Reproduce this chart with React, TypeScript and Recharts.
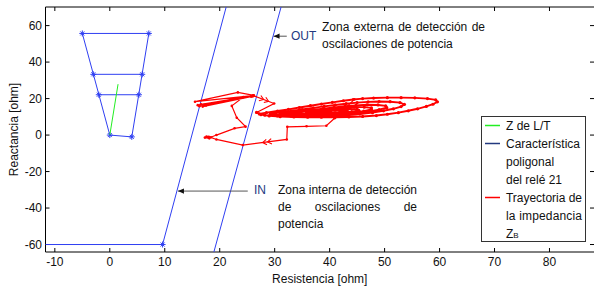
import React from 'react';
import { ScatterChart, Scatter, XAxis, YAxis, Label } from 'recharts';

const BLUE = '#2f3ff2';
const RED = '#ff0000';
const GREEN = '#22ee22';
const NAVY = '#23397f';
const FONT = '"Liberation Sans", Arial, sans-serif';

const xTicks = [-10, 0, 10, 20, 30, 40, 50, 60, 70, 80];
const yTicks = [-60, -40, -20, 0, 20, 40, 60];

// Z de la L/T
const lineZ = [[0, 0], [1.5, 27.9]];

// característica poligonal del relé 21
const relayPolygon = [[0, 0], [-5.0, 55.7], [7.1, 55.7], [4.0, -1.0], [0, 0]];
const relayZone2 = [[-3.0, 33.3], [5.9, 33.3]];
const relayZone1 = [[-2.0, 22.1], [5.3, 22.1]];
const relayMarks = [[0, 0], [-5.0, 55.7], [7.1, 55.7], [4.0, -1.0], [-3.0, 33.3], [5.9, 33.3], [-2.0, 22.1], [5.3, 22.1]];

// zonas de detección de oscilaciones (IN / OUT)
const innerZone = [[-15, -60], [9.6, -60], [21.6, 75]];
const innerMark = [[9.6, -60]];
const outerZone = [[18.4, -70], [31.6, 75]];

// trayectoria de la impedancia ZB
const zbApproach = [
  [44.5, 19.6], [42.0, 12.3], [40.9, 9.2], [39.4, 5.1], [35.8, 4.8], [32.3, 4.5], [32.2, -2.4],
  [24.2, -5.5], [19.4, -2.4], [18.0, -0.9], [17.3, -1.4], [18.1, -1.8], [17.6, -0.8], [18.4, -1.2],
  [19.4, 0.0], [22.7, 3.7], [24.7, 4.6], [23.1, 9.5], [22.2, 16.0], [24.3, 20.8], [26.2, 21.8],
  [23.3, 23.4], [15.5, 18.3],
  [26.0, 21.6], [16.0, 16.4], [25.9, 21.4], [16.3, 15.8], [25.8, 21.2], [16.6, 16.9], [26.1, 21.5],
  [16.9, 15.6], [25.7, 21.1], [17.2, 16.6], [26.0, 21.3], [17.5, 16.2], [26.2, 21.5],
  [29.9, 17.3], [26.7, 12.4],
];
const zbSwing = [
  [26.7, 12.4], [27.5, 11.2], [29, 10.5], [31, 10.1], [33.5, 9.9], [36, 9.8], [38.5, 9.8], [41, 9.8],
  [43.5, 9.9], [46, 10.2], [48.5, 10.7], [50.5, 11.4], [52.5, 12.3], [54.3, 13.3], [56, 14.4],
  [57.6, 15.7], [58.8, 16.9], [59.6, 18.2], [59.3, 19.3], [57.8, 20.0], [55.5, 20.4], [53, 20.5],
  [50.5, 20.5], [48, 20.3], [46, 20.0], [44.3, 19.5], [42.5, 18.8], [40.5, 17.9], [38.5, 17.0],
  [36.5, 16.1], [34.5, 15.1], [32.5, 14.1], [30.5, 13.2], [28.5, 12.3], [27.2, 11.6],
  [28.2, 10.9], [30.5, 10.5], [33, 10.3], [35.5, 10.2], [38, 10.3], [40.5, 10.5], [43, 10.9],
  [45.5, 11.5], [47.8, 12.3], [49.8, 13.3], [51.6, 14.4], [53, 15.6], [53.6, 16.8], [52.8, 17.8],
  [51, 18.3], [49, 18.4], [47, 18.2], [45, 17.8], [43, 17.2], [41, 16.5], [39, 15.7], [37, 14.9],
  [35, 14.0], [33, 13.2], [31, 12.4], [29.2, 11.7],
  [30, 11.1], [32.5, 10.8], [35, 10.7], [37.5, 10.8], [40, 11.0], [42.5, 11.4], [45, 12.1],
  [47.2, 12.9], [49, 13.9], [50.4, 15.0], [50.2, 16.0], [48.8, 16.5], [46.8, 16.6], [44.8, 16.3],
  [42.8, 15.8], [40.8, 15.2], [38.8, 14.5], [36.8, 13.8], [34.8, 13.1], [32.8, 12.4], [31, 11.8],
  [32, 11.4], [34.5, 11.2], [37, 11.2], [39.5, 11.4], [42, 11.8], [44.3, 12.4], [46.2, 13.1],
  [47.6, 14.0], [47.6, 14.9], [46.3, 15.3], [44.5, 15.3], [42.5, 14.9], [40.5, 14.4], [38.5, 13.8],
  [36.5, 13.1], [34.5, 12.5], [33, 12.0],
  [34.5, 11.7], [37, 11.6], [39.5, 11.8], [42, 12.2], [44, 12.8], [45.3, 13.5], [45, 14.2],
  [43.5, 14.4], [41.5, 14.1], [39.5, 13.6], [37.5, 13.0], [35.8, 12.4],
  [37, 12.0], [39.5, 12.1], [41.8, 12.5], [43.2, 13.1], [42.8, 13.7], [41, 13.6], [39, 13.1],
  [37.5, 12.6], [38.5, 12.4], [40.2, 12.6],
];
// flechas de sentido sobre la trayectoria
const arrowsForward = [[27.9, 19.6], [28.8, 18.6]];
const arrowsBack = [[27.9, -4.1], [28.8, -3.7]];

// flechas de las anotaciones
const outArrow = [[32.2, 54.2], [29.8, 54.2]];
const outTip = [[29.8, 54.2]];
const inArrow = [[25.1, -30.7], [12.4, -30.7]];
const inTip = [[12.4, -30.7]];

// leyenda
const legendItems = [
  { color: GREEN, lines: ['Z de L/T'] },
  { color: NAVY, lines: ['Característica', 'poligonal', 'del relé 21'] },
  { color: RED, lines: ['Trayectoria de', 'la impedancia', 'Z|B'] },
];

const pts = (a: number[][]) => a.map(([x, y]) => ({ x, y }));

const noDot = () => <g />;
const noTick = () => <g />;
const redDot = (r: number) => (p: any) => <circle cx={p.cx} cy={p.cy} r={r} fill={RED} />;
const star = (p: any) => (
  <g stroke={BLUE} strokeWidth={1}>
    <line x1={p.cx - 3} x2={p.cx + 3} y1={p.cy} y2={p.cy} />
    <line x1={p.cx} x2={p.cx} y1={p.cy - 3} y2={p.cy + 3} />
    <line x1={p.cx - 2} x2={p.cx + 2} y1={p.cy - 2} y2={p.cy + 2} />
    <line x1={p.cx - 2} x2={p.cx + 2} y1={p.cy + 2} y2={p.cy - 2} />
  </g>
);
const chevron = (deg: number) => (p: any) => (
  <path
    d="M-3.5,-2.8 L0.5,0 L-3.5,2.8"
    transform={`translate(${p.cx},${p.cy}) rotate(${deg})`}
    fill="none"
    stroke={RED}
    strokeWidth={1.1}
  />
);
const arrowTip = (p: any) => (
  <path d="M0,0 L6,-2.6 L6,2.6 Z" transform={`translate(${p.cx},${p.cy})`} fill="#111" />
);

const yLabel = (props: any) => {
  const vb = props.viewBox;
  const cx = vb.x + 14;
  const cy = vb.y + vb.height / 2;
  return (
    <text
      x={cx}
      y={cy}
      transform={`rotate(-90 ${cx} ${cy})`}
      textAnchor="middle"
      dominantBaseline="central"
      fontSize={12}
      fontFamily={FONT}
      fill="#111"
    >
      Reactancia [ohm]
    </text>
  );
};

const justify: React.CSSProperties = { textAlign: 'justify', textAlignLast: 'justify' };

const textBase: React.CSSProperties = {
  position: 'absolute',
  fontFamily: FONT,
  fontSize: 12,
  lineHeight: '17px',
  color: '#111',
  whiteSpace: 'nowrap',
  pointerEvents: 'none',
};

// caja de leyenda dibujada en SVG sobre el gráfico
const LegendBox = () => {
  const left = 481.5;
  const top = 116.5;
  const step = 18;
  let row = 0;
  return (
    <svg
      width={594}
      height={287}
      style={{ position: 'absolute', left: 0, top: 0, pointerEvents: 'none' }}
      fontFamily={FONT}
      fontSize={12}
    >
      <rect x={left} y={top} width={104} height={125} fill="#fff" stroke="#333" strokeWidth={1} />
      {legendItems.map((item) => {
        const first = row;
        row += item.lines.length;
        return (
          <g key={item.lines[0]}>
            <line
              x1={left + 3.5}
              x2={left + 18.5}
              y1={top + 9 + first * step}
              y2={top + 9 + first * step}
              stroke={item.color}
              strokeWidth={1.5}
            />
            {item.lines.map((t, i) => {
              const y = top + 13.5 + (first + i) * step;
              if (t.includes('|')) {
                const [main, sub] = t.split('|');
                return (
                  <text key={t} x={left + 24.5} y={y} fill="#111">
                    {main}
                    <tspan fontSize={8}>{sub}</tspan>
                  </text>
                );
              }
              const justified = item.color === RED && i < 2;
              return (
                <text
                  key={t}
                  x={left + 24.5}
                  y={y}
                  fill="#111"
                  textLength={justified ? 76 : undefined}
                  lengthAdjust="spacing"
                >
                  {t}
                </text>
              );
            })}
          </g>
        );
      })}
    </svg>
  );
};

const App = () => {
  const line = (color: string, w = 1) => ({ stroke: color, strokeWidth: w });
  return (
    <div style={{ position: 'absolute', left: 0, top: 0, width: 594, height: 287, background: '#fff' }}>
      <ScatterChart width={594} height={287} margin={{ top: 6, right: -1, bottom: 0, left: 0 }}>
        <XAxis
          xAxisId="b"
          type="number"
          dataKey="x"
          domain={[-11.7, 88.1]}
          ticks={xTicks}
          interval={0}
          allowDataOverflow
          height={35}
          tickSize={-4}
          tickMargin={9.5}
          stroke="#000"
          tick={{ fill: '#111', fontSize: 12, fontFamily: FONT }}
        >
          <Label value="Resistencia [ohm]" position="insideBottom" offset={4} fill="#111" fontSize={12} fontFamily={FONT} />
        </XAxis>
        <XAxis
          xAxisId="t"
          orientation="top"
          type="number"
          dataKey="x"
          domain={[-11.7, 88.1]}
          ticks={xTicks}
          interval={0}
          allowDataOverflow
          height={1}
          tickSize={-4}
          tick={noTick}
          stroke="#000"
        />
        <YAxis
          yAxisId="l"
          type="number"
          dataKey="y"
          domain={[-64.1, 70.2]}
          ticks={yTicks}
          interval={0}
          allowDataOverflow
          width={45.5}
          tickSize={-4}
          tickMargin={7.5}
          stroke="#000"
          tick={{ fill: '#111', fontSize: 12, fontFamily: FONT }}
        >
          <Label content={yLabel} />
        </YAxis>
        <YAxis
          yAxisId="r"
          orientation="right"
          type="number"
          dataKey="y"
          domain={[-64.1, 70.2]}
          ticks={yTicks}
          interval={0}
          allowDataOverflow
          width={1}
          axisLine={false}
          tickSize={-4}
          tick={noTick}
          stroke="#000"
        />

        <Scatter xAxisId="b" yAxisId="l" data={pts(innerZone)} line={line(BLUE)} lineType="joint" shape={noDot} isAnimationActive={false} />
        <Scatter xAxisId="b" yAxisId="l" data={pts(innerMark)} shape={star} isAnimationActive={false} />
        <Scatter xAxisId="b" yAxisId="l" data={pts(outerZone)} line={line(BLUE)} lineType="joint" shape={noDot} isAnimationActive={false} />
        <Scatter xAxisId="b" yAxisId="l" data={pts(relayPolygon)} line={line(BLUE)} lineType="joint" shape={noDot} isAnimationActive={false} />
        <Scatter xAxisId="b" yAxisId="l" data={pts(relayZone2)} line={line(BLUE)} lineType="joint" shape={noDot} isAnimationActive={false} />
        <Scatter xAxisId="b" yAxisId="l" data={pts(relayZone1)} line={line(BLUE)} lineType="joint" shape={noDot} isAnimationActive={false} />
        <Scatter xAxisId="b" yAxisId="l" data={pts(relayMarks)} shape={star} isAnimationActive={false} />
        <Scatter xAxisId="b" yAxisId="l" data={pts(lineZ)} line={line(GREEN)} lineType="joint" shape={noDot} isAnimationActive={false} />

        <Scatter xAxisId="b" yAxisId="l" data={pts(zbApproach)} line={line(RED, 1.2)} lineType="joint" shape={redDot(1.3)} isAnimationActive={false} />
        <Scatter xAxisId="b" yAxisId="l" data={pts(zbSwing)} line={line(RED, 1.9)} lineType="joint" shape={redDot(1.6)} isAnimationActive={false} />
        <Scatter xAxisId="b" yAxisId="l" data={pts(arrowsForward)} shape={chevron(21)} isAnimationActive={false} />
        <Scatter xAxisId="b" yAxisId="l" data={pts(arrowsBack)} shape={chevron(172)} isAnimationActive={false} />

        <Scatter xAxisId="b" yAxisId="l" data={pts(outArrow)} line={line('#555')} lineType="joint" shape={noDot} isAnimationActive={false} />
        <Scatter xAxisId="b" yAxisId="l" data={pts(outTip)} shape={arrowTip} isAnimationActive={false} />
        <Scatter xAxisId="b" yAxisId="l" data={pts(inArrow)} line={line('#555')} lineType="joint" shape={noDot} isAnimationActive={false} />
        <Scatter xAxisId="b" yAxisId="l" data={pts(inTip)} shape={arrowTip} isAnimationActive={false} />
      </ScatterChart>

      <LegendBox />
      <div style={{ ...textBase, left: 291, top: 28.3, color: NAVY }}>OUT</div>
      <div style={{ ...textBase, left: 322, top: 19.3 }}>
        <div style={{ ...justify, width: 163 }}>Zona externa de detección de</div>
        <div>oscilaciones de potencia</div>
      </div>
      <div style={{ ...textBase, left: 254, top: 182.3, color: NAVY }}>IN</div>
      <div style={{ ...textBase, left: 278, top: 182.3, width: 139 }}>
        <div style={justify}>Zona interna de detección</div>
        <div style={justify}>de oscilaciones de</div>
        <div>potencia</div>
      </div>
    </div>
  );
};

export default App;
